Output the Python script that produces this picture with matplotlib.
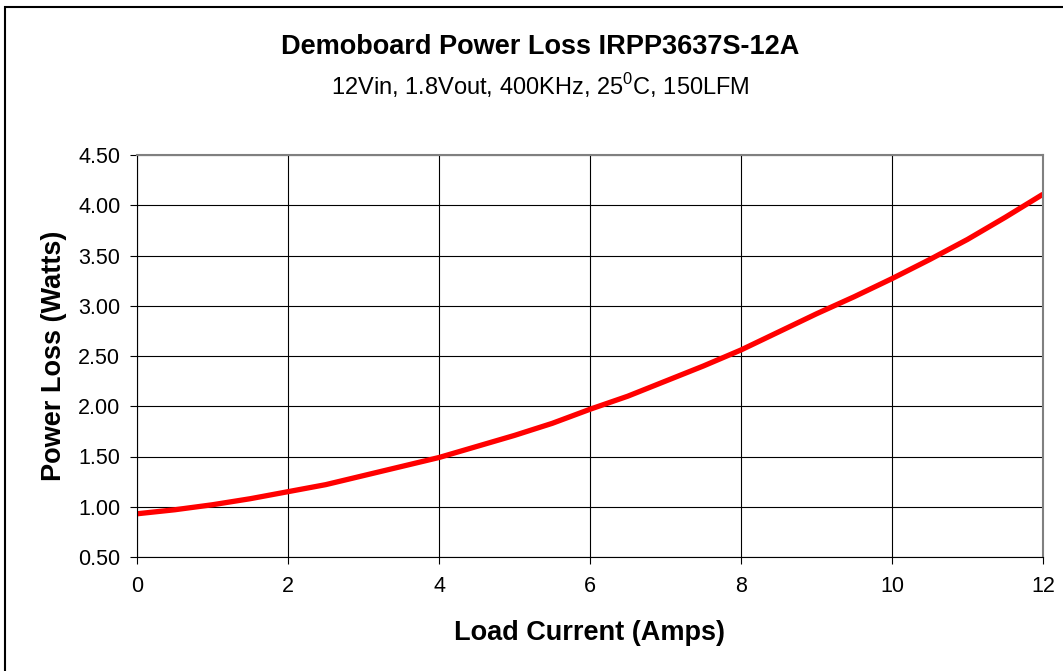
import matplotlib.pyplot as plt
from matplotlib.patches import Rectangle

plt.rcParams['font.family'] = ['Liberation Sans', 'DejaVu Sans']
plt.rcParams['mathtext.fontset'] = 'custom'
plt.rcParams['mathtext.rm'] = 'Liberation Sans'

# load current (A) vs power loss (W)
current = [0, 0.5, 1, 1.5, 2, 2.5, 3, 3.5, 4, 4.5, 5, 5.5, 6,
           6.5, 7, 7.5, 8, 8.5, 9, 9.5, 10, 10.5, 11, 11.5, 12]
loss = [0.93, 0.97, 1.02, 1.08, 1.15, 1.22, 1.31, 1.40, 1.49, 1.60, 1.71, 1.83, 1.97,
        2.10, 2.25, 2.40, 2.56, 2.74, 2.92, 3.09, 3.27, 3.46, 3.66, 3.88, 4.11]
xticks = [0, 2, 4, 6, 8, 10, 12]
yticks = [0.5, 1.0, 1.5, 2.0, 2.5, 3.0, 3.5, 4.0, 4.5]

fig = plt.figure(figsize=(10.63, 6.71), dpi=100)
ax = fig.add_axes([137/1063, 1-557/671, (1043-137)/1063, (557-155)/671])

ax.plot(current, loss, color='#ff0000', lw=3.8, solid_capstyle='butt')
ax.set_xlim(0, 12)
ax.set_ylim(0.5, 4.5)
ax.set_xticks(xticks)
ax.set_yticks(yticks)
ax.set_yticklabels(['%.2f' % v for v in yticks])
ax.grid(True, color='black', lw=0.8)
ax.tick_params(labelsize=15.5, direction='out', length=5, width=0.8, pad=7)
ax.tick_params(axis='x', pad=9)
for s in ['top', 'right']:
    ax.spines[s].set_color('#808080')
    ax.spines[s].set_linewidth(1.5)
for s in ['left', 'bottom']:
    ax.spines[s].set_linewidth(0.8)

ax.set_xlabel('Load Current (Amps)', fontsize=19.5, fontweight='bold', labelpad=16)
ax.set_ylabel('Power Loss (Watts)', fontsize=19.5, fontweight='bold', labelpad=8)

fig.text(540/1063, 1-47/671, 'Demoboard Power Loss IRPP3637S-12A', ha='center', va='center',
         fontsize=19.5, fontweight='bold')
fig.text(540/1063, 1-86/671, r'12Vin, 1.8Vout, 400KHz, 25$^\mathrm{0}$C, 150LFM', ha='center',
         va='center', fontsize=17)

fig.patches.append(Rectangle((5/1063, -0.1), 1.2, 1.1-7/671, transform=fig.transFigure,
                             fill=False, edgecolor='black', lw=1.5))

fig.savefig('out.png', dpi=100)
